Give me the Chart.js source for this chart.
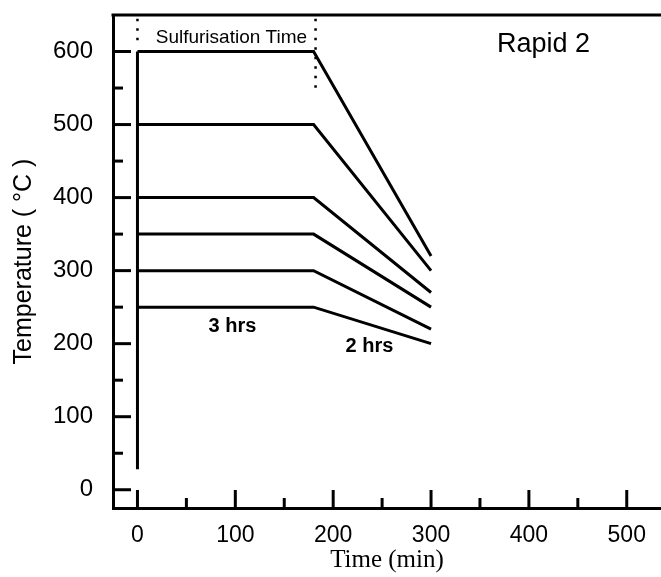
<!DOCTYPE html>
<html>
<head>
<meta charset="utf-8">
<script src="https://cdn.jsdelivr.net/npm/chart.js@4/dist/chart.umd.min.js"></script>
<style>
  html, body { margin: 0; padding: 0; background: #fff; }
  #wrap { width: 661px; height: 577px; }
</style>
</head>
<body>
<div id="wrap"><canvas id="c" width="661" height="577"></canvas></div>
<script>
// ---- data ----
const holdTimes = [0, 180, 300];                 // min: start, end of sulfurisation, end of cooling
const plateauTemps = [600, 500, 400, 350, 300, 250];
const endTemps = [320, 300, 270, 250, 220, 200];
const rampX = [0, 0];
const rampY = [28, 600];
const dotAX = [0, 0];
const dotAY = [645, 606];
const dotBX = [182, 182];
const dotBY = [645, 545];
const xMajorTicks = [0, 100, 200, 300, 400, 500];
const xMinorTicks = [50, 150, 250, 350, 450];
const yMajorTicks = [0, 100, 200, 300, 400, 500, 600];
const yMinorTicks = [50, 150, 250, 350, 450, 550];
const notes = ['Sulfurisation Time', '3 hrs', '2 hrs', 'Rapid 2'];

// ---- build datasets ----
const black = '#000';
const datasets = [];
datasets.push({
  data: rampX.map((x, i) => ({ x, y: rampY[i] })),
  borderColor: black, borderWidth: 3, pointRadius: 0, tension: 0
});
plateauTemps.forEach((t, i) => {
  datasets.push({
    data: [
      { x: holdTimes[0], y: t },
      { x: holdTimes[1], y: t },
      { x: holdTimes[2], y: endTemps[i] }
    ],
    borderColor: black, borderWidth: 3, pointRadius: 0, tension: 0
  });
});
datasets.push({
  data: dotAX.map((x, i) => ({ x, y: dotAY[i] })),
  borderColor: black, borderWidth: 2.5, borderDash: [2.5, 7], pointRadius: 0
});
datasets.push({
  data: dotBX.map((x, i) => ({ x, y: dotBY[i] })),
  borderColor: black, borderWidth: 2.5, borderDash: [2.5, 7], pointRadius: 0
});

const decor = {
  id: 'decor',
  afterDraw(chart) {
    const { ctx, chartArea: a, scales: { x, y } } = chart;
    ctx.save();
    ctx.strokeStyle = black;
    ctx.lineWidth = 3;
    const seg = (x1, y1, x2, y2) => { ctx.beginPath(); ctx.moveTo(x1, y1); ctx.lineTo(x2, y2); ctx.stroke(); };
    xMajorTicks.forEach(v => { const p = x.getPixelForValue(v); seg(p, a.bottom, p, a.bottom - 18); });
    xMinorTicks.forEach(v => { const p = x.getPixelForValue(v); seg(p, a.bottom, p, a.bottom - 10); });
    yMajorTicks.forEach(v => { const p = y.getPixelForValue(v); seg(a.left, p, a.left + 18, p); });
    yMinorTicks.forEach(v => { const p = y.getPixelForValue(v); seg(a.left, p, a.left + 10, p); });
    // top frame line
    seg(a.left - 1.5, a.top, a.right, a.top);
    // annotations
    ctx.fillStyle = black;
    ctx.textAlign = 'center';
    ctx.textBaseline = 'alphabetic';
    ctx.font = '19px "Liberation Sans", Arial, sans-serif';
    ctx.fillText(notes[0], x.getPixelForValue(96), y.getPixelForValue(611));
    ctx.font = 'bold 20px "Liberation Sans", Arial, sans-serif';
    ctx.textBaseline = 'middle';
    ctx.fillText(notes[1], x.getPixelForValue(97), y.getPixelForValue(223));
    ctx.fillText(notes[2], x.getPixelForValue(237), y.getPixelForValue(196));
    ctx.font = '27px "Liberation Sans", Arial, sans-serif';
    ctx.fillText(notes[3], x.getPixelForValue(415), y.getPixelForValue(610));
    ctx.restore();
  }
};

new Chart(document.getElementById('c'), {
  type: 'line',
  data: { datasets },
  plugins: [decor],
  options: {
    responsive: false,
    animation: false,
    layout: { padding: { top: 15, right: 0, left: 0, bottom: 0 } },
    plugins: { legend: { display: false }, tooltip: { enabled: false } },
    scales: {
      x: {
        type: 'linear',
        min: -25, max: 535,
        afterBuildTicks: s => { s.ticks = xMajorTicks.map(v => ({ value: v })); },
        afterFit: s => { s.height = 69; s.paddingLeft = 0; s.paddingRight = 0; },
        grid: { display: false, drawTicks: false },
        border: { display: true, color: black, width: 3 },
        ticks: { color: black, padding: 14, font: { family: '"Liberation Sans", Arial, sans-serif', size: 23 } },
        title: {
          display: true, text: 'Time (min)', color: black,
          font: { family: '"Liberation Serif", "Times New Roman", serif', size: 25 },
          padding: { top: 0, bottom: 2 }
        }
      },
      y: {
        type: 'linear',
        min: -25, max: 650,
        afterBuildTicks: s => { s.ticks = yMajorTicks.map(v => ({ value: v })); },
        afterFit: s => { s.width = 113; s.paddingTop = 0; s.paddingBottom = 0; },
        grid: { display: false, drawTicks: false },
        border: { display: true, color: black, width: 3 },
        ticks: { color: black, padding: 20, font: { family: '"Liberation Sans", Arial, sans-serif', size: 24 } },
        title: {
          display: true, text: 'Temperature ( °C )', color: black,
          font: { family: '"Liberation Sans", Arial, sans-serif', size: 25 },
          padding: { top: 9, bottom: 0 }
        }
      }
    }
  }
});
</script>
</body>
</html>
